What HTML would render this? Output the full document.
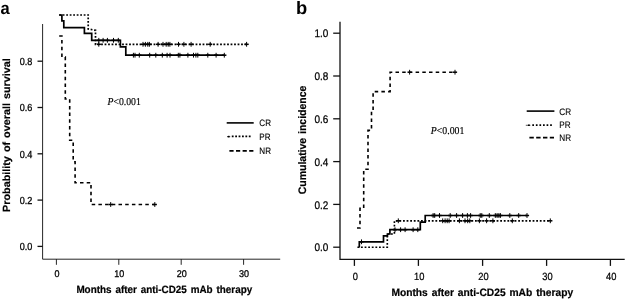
<!DOCTYPE html>
<html lang="en"><head><meta charset="utf-8"><title>Figure</title>
<style>html,body{margin:0;padding:0;background:#fff}body{width:627px;height:300px;overflow:hidden}</style>
</head><body>
<svg width="627" height="300" viewBox="0 0 627 300" style="display:block;will-change:transform" text-rendering="geometricPrecision">
<rect width="627" height="300" fill="#fff"/>
<text transform="translate(0.6,13.8) scale(0.96,1)" font-family="Liberation Sans, Arial, sans-serif" font-weight="bold" font-size="17.2">a</text>
<g stroke="#1a1a1a" stroke-width="0.95" fill="none">
<path d="M42.6,24 V259.2 H280.2"/>
<path stroke-width="1.3" stroke="#111" d="M37.5,61.2 H42.7"/>
<path stroke-width="1.3" stroke="#111" d="M37.5,107.5 H42.7"/>
<path stroke-width="1.3" stroke="#111" d="M37.5,153.8 H42.7"/>
<path stroke-width="1.3" stroke="#111" d="M37.5,200.1 H42.7"/>
<path stroke-width="1.3" stroke="#111" d="M37.5,246.4 H42.7"/>
<path d="M56.4,259.1 V264.8"/>
<path d="M118.8,259.1 V264.8"/>
<path d="M181.2,259.1 V264.8"/>
<path d="M243.6,259.1 V264.8"/>
</g>
<g font-family="Liberation Sans, Arial, sans-serif" font-size="10.2" fill="#000" stroke="#000" stroke-width="0.3">
<text transform="translate(32.4,64.9) scale(0.892,1)" text-anchor="end">0.8</text>
<text transform="translate(32.4,111.2) scale(0.892,1)" text-anchor="end">0.6</text>
<text transform="translate(32.4,157.5) scale(0.892,1)" text-anchor="end">0.4</text>
<text transform="translate(32.4,203.8) scale(0.892,1)" text-anchor="end">0.2</text>
<text transform="translate(32.4,250.1) scale(0.892,1)" text-anchor="end">0.0</text>
<text transform="translate(56.9,277.1) scale(0.88,0.95)" text-anchor="middle">0</text>
<text transform="translate(119.3,277.1) scale(0.88,0.95)" text-anchor="middle">10</text>
<text transform="translate(181.7,277.1) scale(0.88,0.95)" text-anchor="middle">20</text>
<text transform="translate(244.1,277.1) scale(0.88,0.95)" text-anchor="middle">30</text>
</g>
<text x="76.4" y="293" textLength="175.8" lengthAdjust="spacingAndGlyphs" font-family="Liberation Sans, Arial, sans-serif" font-weight="bold" font-size="10.5" word-spacing="1.2" fill="#000" stroke="#000" stroke-width="0.2">Months after anti-CD25 mAb therapy</text>
<text transform="translate(10.2,211.9) rotate(-90)" textLength="153.6" lengthAdjust="spacingAndGlyphs" font-family="Liberation Sans, Arial, sans-serif" font-weight="bold" font-size="10.4" word-spacing="1" fill="#000" stroke="#000" stroke-width="0.2">Probability of overall survival</text>
<text x="107.5" y="104.9" textLength="33.3" lengthAdjust="spacingAndGlyphs" font-family="Liberation Serif, Times New Roman, serif" font-size="10.6" fill="#000" stroke="#000" stroke-width="0.15"><tspan font-style="italic">P</tspan>&lt;0.001</text>
<g fill="none" stroke="#000" stroke-width="1.7">
<path d="M59.2,15 H61.9 V20.9 H63.8 V27.7 H84.4 V33.4 H91.7 V40.3 H120.4 V46.8 H125.8 V55.2 H224.2"/>
<path stroke-width="1.7" stroke-dasharray="1.8 1.7" d="M59.2,15 H88.2 V29 L95.5,30.3 V44.3 H246.6"/>
<path stroke-width="1.6" stroke-dasharray="3.5 3.2" d="M59.2,36 H61.9 V57 H65.3 V99 H69.7 V140.3 H73.2 V161.8 H75.1 V182.7 H91 V204.5 H154.8"/>
</g>
<path d="M98.8,37.9 V42.7" fill="none" stroke="#000" stroke-width="1.0"/><path d="M96.7,40.3 H100.9" fill="none" stroke="#000" stroke-width="1.5"/><path d="M103.1,37.9 V42.7" fill="none" stroke="#000" stroke-width="1.0"/><path d="M101.0,40.3 H105.2" fill="none" stroke="#000" stroke-width="1.5"/><path d="M107.4,37.9 V42.7" fill="none" stroke="#000" stroke-width="1.0"/><path d="M105.3,40.3 H109.5" fill="none" stroke="#000" stroke-width="1.5"/><path d="M113.5,37.9 V42.7" fill="none" stroke="#000" stroke-width="1.0"/><path d="M111.4,40.3 H115.6" fill="none" stroke="#000" stroke-width="1.5"/><path d="M118.3,37.9 V42.7" fill="none" stroke="#000" stroke-width="1.0"/><path d="M116.2,40.3 H120.4" fill="none" stroke="#000" stroke-width="1.5"/>
<path d="M133.4,52.8 V57.6" fill="none" stroke="#000" stroke-width="1.0"/><path d="M131.3,55.2 H135.5" fill="none" stroke="#000" stroke-width="1.5"/><path d="M135,52.8 V57.6" fill="none" stroke="#000" stroke-width="1.0"/><path d="M132.9,55.2 H137.1" fill="none" stroke="#000" stroke-width="1.5"/><path d="M139.3,52.8 V57.6" fill="none" stroke="#000" stroke-width="1.0"/><path d="M137.2,55.2 H141.4" fill="none" stroke="#000" stroke-width="1.5"/><path d="M149.7,52.8 V57.6" fill="none" stroke="#000" stroke-width="1.0"/><path d="M147.6,55.2 H151.8" fill="none" stroke="#000" stroke-width="1.5"/><path d="M155.8,52.8 V57.6" fill="none" stroke="#000" stroke-width="1.0"/><path d="M153.7,55.2 H157.9" fill="none" stroke="#000" stroke-width="1.5"/><path d="M162.3,52.8 V57.6" fill="none" stroke="#000" stroke-width="1.0"/><path d="M160.2,55.2 H164.4" fill="none" stroke="#000" stroke-width="1.5"/><path d="M167.1,52.8 V57.6" fill="none" stroke="#000" stroke-width="1.0"/><path d="M165.0,55.2 H169.2" fill="none" stroke="#000" stroke-width="1.5"/><path d="M170,52.8 V57.6" fill="none" stroke="#000" stroke-width="1.0"/><path d="M167.9,55.2 H172.1" fill="none" stroke="#000" stroke-width="1.5"/><path d="M178.3,52.8 V57.6" fill="none" stroke="#000" stroke-width="1.0"/><path d="M176.2,55.2 H180.4" fill="none" stroke="#000" stroke-width="1.5"/><path d="M179.9,52.8 V57.6" fill="none" stroke="#000" stroke-width="1.0"/><path d="M177.8,55.2 H182.0" fill="none" stroke="#000" stroke-width="1.5"/><path d="M187.9,52.8 V57.6" fill="none" stroke="#000" stroke-width="1.0"/><path d="M185.8,55.2 H190.0" fill="none" stroke="#000" stroke-width="1.5"/><path d="M193.5,52.8 V57.6" fill="none" stroke="#000" stroke-width="1.0"/><path d="M191.4,55.2 H195.6" fill="none" stroke="#000" stroke-width="1.5"/><path d="M195.9,52.8 V57.6" fill="none" stroke="#000" stroke-width="1.0"/><path d="M193.8,55.2 H198.0" fill="none" stroke="#000" stroke-width="1.5"/><path d="M197.8,52.8 V57.6" fill="none" stroke="#000" stroke-width="1.0"/><path d="M195.7,55.2 H199.9" fill="none" stroke="#000" stroke-width="1.5"/><path d="M207.8,52.8 V57.6" fill="none" stroke="#000" stroke-width="1.0"/><path d="M205.7,55.2 H209.9" fill="none" stroke="#000" stroke-width="1.5"/><path d="M216.1,52.8 V57.6" fill="none" stroke="#000" stroke-width="1.0"/><path d="M214.0,55.2 H218.2" fill="none" stroke="#000" stroke-width="1.5"/><path d="M224.3,52.8 V57.6" fill="none" stroke="#000" stroke-width="1.0"/><path d="M222.2,55.2 H226.4" fill="none" stroke="#000" stroke-width="1.5"/>
<path d="M98.8,41.9 V46.7" fill="none" stroke="#000" stroke-width="1.0"/><path d="M96.7,44.3 H100.9" fill="none" stroke="#000" stroke-width="1.5"/><path d="M143,41.9 V46.7" fill="none" stroke="#000" stroke-width="1.0"/><path d="M140.9,44.3 H145.1" fill="none" stroke="#000" stroke-width="1.5"/><path d="M145.4,41.9 V46.7" fill="none" stroke="#000" stroke-width="1.0"/><path d="M143.3,44.3 H147.5" fill="none" stroke="#000" stroke-width="1.5"/><path d="M147.8,41.9 V46.7" fill="none" stroke="#000" stroke-width="1.0"/><path d="M145.7,44.3 H149.9" fill="none" stroke="#000" stroke-width="1.5"/><path d="M149.4,41.9 V46.7" fill="none" stroke="#000" stroke-width="1.0"/><path d="M147.3,44.3 H151.5" fill="none" stroke="#000" stroke-width="1.5"/><path d="M158.1,41.9 V46.7" fill="none" stroke="#000" stroke-width="1.0"/><path d="M156.0,44.3 H160.2" fill="none" stroke="#000" stroke-width="1.5"/><path d="M163,41.9 V46.7" fill="none" stroke="#000" stroke-width="1.0"/><path d="M160.9,44.3 H165.1" fill="none" stroke="#000" stroke-width="1.5"/><path d="M166.2,41.9 V46.7" fill="none" stroke="#000" stroke-width="1.0"/><path d="M164.1,44.3 H168.3" fill="none" stroke="#000" stroke-width="1.5"/><path d="M168.2,41.9 V46.7" fill="none" stroke="#000" stroke-width="1.0"/><path d="M166.1,44.3 H170.3" fill="none" stroke="#000" stroke-width="1.5"/><path d="M169.9,41.9 V46.7" fill="none" stroke="#000" stroke-width="1.0"/><path d="M167.8,44.3 H172.0" fill="none" stroke="#000" stroke-width="1.5"/><path d="M178.5,41.9 V46.7" fill="none" stroke="#000" stroke-width="1.0"/><path d="M176.4,44.3 H180.6" fill="none" stroke="#000" stroke-width="1.5"/><path d="M183.9,41.9 V46.7" fill="none" stroke="#000" stroke-width="1.0"/><path d="M181.8,44.3 H186.0" fill="none" stroke="#000" stroke-width="1.5"/><path d="M191.1,41.9 V46.7" fill="none" stroke="#000" stroke-width="1.0"/><path d="M189.0,44.3 H193.2" fill="none" stroke="#000" stroke-width="1.5"/><path d="M210.2,41.9 V46.7" fill="none" stroke="#000" stroke-width="1.0"/><path d="M208.1,44.3 H212.3" fill="none" stroke="#000" stroke-width="1.5"/><path d="M246.6,41.9 V46.7" fill="none" stroke="#000" stroke-width="1.0"/><path d="M244.5,44.3 H248.7" fill="none" stroke="#000" stroke-width="1.5"/>
<path d="M110.7,202.1 V206.9" fill="none" stroke="#000" stroke-width="1.0"/><path d="M108.6,204.5 H112.8" fill="none" stroke="#000" stroke-width="1.5"/><path d="M154.8,202.1 V206.9" fill="none" stroke="#000" stroke-width="1.0"/><path d="M152.7,204.5 H156.9" fill="none" stroke="#000" stroke-width="1.5"/>
<g fill="none" stroke="#000">
<path stroke-width="1.6" d="M226.7,122.9 H253.7"/>
<path stroke-width="1.7" stroke-dasharray="1.8 1.6" d="M231.8,136.4 H250.7"/>
<path stroke-width="1.2" stroke="#555" d="M227,136.6 H230.2"/>
<path stroke-width="1.6" d="M227.9,136.6 H229.5"/>
<path stroke-width="1.7" stroke-dasharray="4.2 2.4" d="M229.4,150.8 H253.6"/>
</g>
<g font-family="Liberation Sans, Arial, sans-serif" font-size="9.2" fill="#000" stroke="#000" stroke-width="0.12">
<text transform="translate(259.3,126) scale(0.88,1)">CR</text>
<text transform="translate(259.3,139.5) scale(0.88,1)">PR</text>
<text transform="translate(259.3,153.8) scale(0.88,1)">NR</text>
</g>
<text transform="translate(296,13.9) scale(1.02,1)" font-family="Liberation Sans, Arial, sans-serif" font-weight="bold" font-size="18">b</text>
<g stroke="#111" stroke-width="1.3" fill="none">
<path d="M340,21.7 V259.4 H624.7"/>
<path d="M333.2,33.2 H340"/>
<path d="M333.2,76 H340"/>
<path d="M333.2,118.8 H340"/>
<path d="M333.2,161.6 H340"/>
<path d="M333.2,204.4 H340"/>
<path d="M333.2,247.2 H340"/>
<path d="M354.4,259.4 V265.9"/>
<path d="M418.4,259.4 V265.9"/>
<path d="M482.6,259.4 V265.9"/>
<path d="M546.6,259.4 V265.9"/>
<path d="M610.4,259.4 V265.9"/>
</g>
<g font-family="Liberation Sans, Arial, sans-serif" font-size="11" fill="#000" stroke="#000" stroke-width="0.25">
<text transform="translate(328.4,37.3) scale(0.906,1)" text-anchor="end">1.0</text>
<text transform="translate(328.4,80.1) scale(0.906,1)" text-anchor="end">0.8</text>
<text transform="translate(328.4,122.9) scale(0.906,1)" text-anchor="end">0.6</text>
<text transform="translate(328.4,165.7) scale(0.906,1)" text-anchor="end">0.4</text>
<text transform="translate(328.4,208.5) scale(0.906,1)" text-anchor="end">0.2</text>
<text transform="translate(328.4,251.3) scale(0.906,1)" text-anchor="end">0.0</text>
<text transform="translate(355.3,279.5) scale(0.85,0.95)" text-anchor="middle">0</text>
<text transform="translate(419.3,279.5) scale(0.85,0.95)" text-anchor="middle">10</text>
<text transform="translate(483.5,279.5) scale(0.85,0.95)" text-anchor="middle">20</text>
<text transform="translate(547.5,279.5) scale(0.85,0.95)" text-anchor="middle">30</text>
<text transform="translate(611.3,279.5) scale(0.85,0.95)" text-anchor="middle">40</text>
</g>
<text x="391.4" y="296" textLength="181.8" lengthAdjust="spacingAndGlyphs" font-family="Liberation Sans, Arial, sans-serif" font-weight="bold" font-size="10.7" word-spacing="1.1" fill="#000" stroke="#000" stroke-width="0.2">Months after anti-CD25 mAb therapy</text>
<text transform="translate(306.2,194.3) rotate(-90)" textLength="108.7" lengthAdjust="spacingAndGlyphs" font-family="Liberation Sans, Arial, sans-serif" font-weight="bold" font-size="10.9" word-spacing="1" fill="#000" stroke="#000" stroke-width="0.2">Cumulative incidence</text>
<text x="430.8" y="134.2" textLength="33.6" lengthAdjust="spacingAndGlyphs" font-family="Liberation Serif, Times New Roman, serif" font-size="10.6" fill="#000" stroke="#000" stroke-width="0.15"><tspan font-style="italic">P</tspan>&lt;0.001</text>
<g fill="none" stroke="#000" stroke-width="1.7">
<path d="M359.3,247.4 V241.8 H383.5 V235.8 H387.4 V234 H389.9 V229.7 H420.3 V222.2 H425.2 V215.5 H527"/>
<path stroke-width="1.65" stroke-dasharray="1.8 1.8" d="M357.4,247.2 H387.3 V234 H394.4 V220.8 H550.3"/>
<path stroke-width="1.6" stroke-dasharray="3.5 3.2" d="M357,228 H360 V208.3 H363.7 V169.3 H368 V130.4 H371.5 V111.2 H373.1 V91.6 H390.1 V72.2 H455"/>
</g>
<path d="M361.5,239.4 V244.2" fill="none" stroke="#000" stroke-width="1.0"/><path d="M359.4,241.8 H363.6" fill="none" stroke="#000" stroke-width="1.5"/>
<path d="M395,227.3 V232.1" fill="none" stroke="#000" stroke-width="1.0"/><path d="M392.9,229.7 H397.1" fill="none" stroke="#000" stroke-width="1.5"/><path d="M400.6,227.3 V232.1" fill="none" stroke="#000" stroke-width="1.0"/><path d="M398.5,229.7 H402.7" fill="none" stroke="#000" stroke-width="1.5"/><path d="M405.1,227.3 V232.1" fill="none" stroke="#000" stroke-width="1.0"/><path d="M403.0,229.7 H407.2" fill="none" stroke="#000" stroke-width="1.5"/><path d="M413.1,227.3 V232.1" fill="none" stroke="#000" stroke-width="1.0"/><path d="M411.0,229.7 H415.2" fill="none" stroke="#000" stroke-width="1.5"/><path d="M417.8,227.3 V232.1" fill="none" stroke="#000" stroke-width="1.0"/><path d="M415.7,229.7 H419.9" fill="none" stroke="#000" stroke-width="1.5"/>
<path d="M433.1,213.1 V217.9" fill="none" stroke="#000" stroke-width="1.0"/><path d="M431.0,215.5 H435.2" fill="none" stroke="#000" stroke-width="1.5"/><path d="M434.7,213.1 V217.9" fill="none" stroke="#000" stroke-width="1.0"/><path d="M432.6,215.5 H436.8" fill="none" stroke="#000" stroke-width="1.5"/><path d="M439.5,213.1 V217.9" fill="none" stroke="#000" stroke-width="1.0"/><path d="M437.4,215.5 H441.6" fill="none" stroke="#000" stroke-width="1.5"/><path d="M450.2,213.1 V217.9" fill="none" stroke="#000" stroke-width="1.0"/><path d="M448.1,215.5 H452.3" fill="none" stroke="#000" stroke-width="1.5"/><path d="M456.6,213.1 V217.9" fill="none" stroke="#000" stroke-width="1.0"/><path d="M454.5,215.5 H458.7" fill="none" stroke="#000" stroke-width="1.5"/><path d="M462.6,213.1 V217.9" fill="none" stroke="#000" stroke-width="1.0"/><path d="M460.5,215.5 H464.7" fill="none" stroke="#000" stroke-width="1.5"/><path d="M467.4,213.1 V217.9" fill="none" stroke="#000" stroke-width="1.0"/><path d="M465.3,215.5 H469.5" fill="none" stroke="#000" stroke-width="1.5"/><path d="M470.6,213.1 V217.9" fill="none" stroke="#000" stroke-width="1.0"/><path d="M468.5,215.5 H472.7" fill="none" stroke="#000" stroke-width="1.5"/><path d="M480.2,213.1 V217.9" fill="none" stroke="#000" stroke-width="1.0"/><path d="M478.1,215.5 H482.3" fill="none" stroke="#000" stroke-width="1.5"/><path d="M481.8,213.1 V217.9" fill="none" stroke="#000" stroke-width="1.0"/><path d="M479.7,215.5 H483.9" fill="none" stroke="#000" stroke-width="1.5"/><path d="M489.3,213.1 V217.9" fill="none" stroke="#000" stroke-width="1.0"/><path d="M487.2,215.5 H491.4" fill="none" stroke="#000" stroke-width="1.5"/><path d="M495.3,213.1 V217.9" fill="none" stroke="#000" stroke-width="1.0"/><path d="M493.2,215.5 H497.4" fill="none" stroke="#000" stroke-width="1.5"/><path d="M497.1,213.1 V217.9" fill="none" stroke="#000" stroke-width="1.0"/><path d="M495.0,215.5 H499.2" fill="none" stroke="#000" stroke-width="1.5"/><path d="M498.9,213.1 V217.9" fill="none" stroke="#000" stroke-width="1.0"/><path d="M496.8,215.5 H501.0" fill="none" stroke="#000" stroke-width="1.5"/><path d="M500.4,213.1 V217.9" fill="none" stroke="#000" stroke-width="1.0"/><path d="M498.3,215.5 H502.5" fill="none" stroke="#000" stroke-width="1.5"/><path d="M509.8,213.1 V217.9" fill="none" stroke="#000" stroke-width="1.0"/><path d="M507.7,215.5 H511.9" fill="none" stroke="#000" stroke-width="1.5"/><path d="M518.7,213.1 V217.9" fill="none" stroke="#000" stroke-width="1.0"/><path d="M516.6,215.5 H520.8" fill="none" stroke="#000" stroke-width="1.5"/><path d="M527,213.1 V217.9" fill="none" stroke="#000" stroke-width="1.0"/><path d="M524.9,215.5 H529.1" fill="none" stroke="#000" stroke-width="1.5"/>
<path d="M398.3,218.4 V223.2" fill="none" stroke="#000" stroke-width="1.0"/><path d="M396.2,220.8 H400.4" fill="none" stroke="#000" stroke-width="1.5"/><path d="M442.7,218.4 V223.2" fill="none" stroke="#000" stroke-width="1.0"/><path d="M440.6,220.8 H444.8" fill="none" stroke="#000" stroke-width="1.5"/><path d="M445.1,218.4 V223.2" fill="none" stroke="#000" stroke-width="1.0"/><path d="M443.0,220.8 H447.2" fill="none" stroke="#000" stroke-width="1.5"/><path d="M447.2,218.4 V223.2" fill="none" stroke="#000" stroke-width="1.0"/><path d="M445.1,220.8 H449.3" fill="none" stroke="#000" stroke-width="1.5"/><path d="M449.1,218.4 V223.2" fill="none" stroke="#000" stroke-width="1.0"/><path d="M447.0,220.8 H451.2" fill="none" stroke="#000" stroke-width="1.5"/><path d="M459.4,218.4 V223.2" fill="none" stroke="#000" stroke-width="1.0"/><path d="M457.3,220.8 H461.5" fill="none" stroke="#000" stroke-width="1.5"/><path d="M465,218.4 V223.2" fill="none" stroke="#000" stroke-width="1.0"/><path d="M462.9,220.8 H467.1" fill="none" stroke="#000" stroke-width="1.5"/><path d="M467.7,218.4 V223.2" fill="none" stroke="#000" stroke-width="1.0"/><path d="M465.6,220.8 H469.8" fill="none" stroke="#000" stroke-width="1.5"/><path d="M469.8,218.4 V223.2" fill="none" stroke="#000" stroke-width="1.0"/><path d="M467.7,220.8 H471.9" fill="none" stroke="#000" stroke-width="1.5"/><path d="M479.4,218.4 V223.2" fill="none" stroke="#000" stroke-width="1.0"/><path d="M477.3,220.8 H481.5" fill="none" stroke="#000" stroke-width="1.5"/><path d="M486.6,218.4 V223.2" fill="none" stroke="#000" stroke-width="1.0"/><path d="M484.5,220.8 H488.7" fill="none" stroke="#000" stroke-width="1.5"/><path d="M492.9,218.4 V223.2" fill="none" stroke="#000" stroke-width="1.0"/><path d="M490.8,220.8 H495.0" fill="none" stroke="#000" stroke-width="1.5"/><path d="M512.3,218.4 V223.2" fill="none" stroke="#000" stroke-width="1.0"/><path d="M510.2,220.8 H514.4" fill="none" stroke="#000" stroke-width="1.5"/><path d="M550.3,218.4 V223.2" fill="none" stroke="#000" stroke-width="1.0"/><path d="M548.2,220.8 H552.4" fill="none" stroke="#000" stroke-width="1.5"/>
<path d="M409.6,69.8 V74.6" fill="none" stroke="#000" stroke-width="1.0"/><path d="M407.5,72.2 H411.7" fill="none" stroke="#000" stroke-width="1.5"/><path d="M455,69.8 V74.6" fill="none" stroke="#000" stroke-width="1.0"/><path d="M452.9,72.2 H457.1" fill="none" stroke="#000" stroke-width="1.5"/>
<g fill="none" stroke="#000">
<path stroke-width="1.6" d="M526.7,111.1 H554.4"/>
<path stroke-width="1.55" stroke-dasharray="1.7 1.87" d="M532.3,125.1 H552"/>
<path stroke-width="1.1" stroke="#666" d="M525.8,125.3 H530.4"/>
<path stroke-width="1.6" d="M528,125.3 H529.8"/>
<path stroke-width="1.8" stroke-dasharray="4.4 2.4" d="M529.4,137.7 H554"/>
</g>
<g font-family="Liberation Sans, Arial, sans-serif" font-size="9.4" fill="#000" stroke="#000" stroke-width="0.12">
<text transform="translate(559.3,114.6) scale(0.87,1)">CR</text>
<text transform="translate(559.3,127.8) scale(0.87,1)">PR</text>
<text transform="translate(559.3,140.8) scale(0.87,1)">NR</text>
</g>
</svg>
</body></html>
